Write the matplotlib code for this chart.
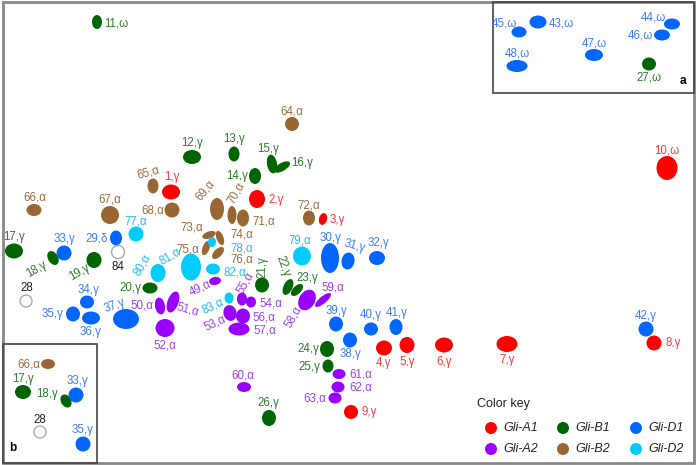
import matplotlib
matplotlib.use("Agg")
import matplotlib.pyplot as plt
from matplotlib.patches import Ellipse, Rectangle

plt.rcParams['font.family'] = ['Liberation Sans', 'DejaVu Sans']

# spot colours / label colours per gene
gene_colors = {'A1': '#ff0000', 'A2': '#9900ff', 'B1': '#006400',
               'B2': '#996633', 'D1': '#0066ff', 'D2': '#00ccff'}
text_colors = {'A1': '#ff3838', 'A2': '#a040ee', 'B1': '#2f7a2f',
               'B2': '#9a6b3e', 'D1': '#3f7cf2', 'D2': '#22bff0', 'X': '#222222'}
legend_genes = ['A1', 'B1', 'D1', 'A2', 'B2', 'D2']

# spots: (name, x, y, width, height, angle) in gel pixel coordinates
spots_A1 = [(1, 171, 192, 18, 15, 0), (2, 257, 199, 16, 18, 0), (3, 323, 219, 8, 12, 15),
            (4, 384, 348, 16, 15, 0), (5, 407, 345, 15, 16, 0), (6, 444, 345, 18, 15, 0),
            (7, 507, 344, 21, 16, 0), (8, 654, 343, 15, 15, 0), (9, 351, 412, 14, 14, 0),
            (10, 667, 168, 21, 24, 0)]
spots_A2 = [(49, 215, 281, 12, 8, -10), (50, 160, 306, 10, 17, -10), (51, 173, 302, 11, 22, 20),
            (52, 165, 328, 19, 18, 0), (53, 230, 313, 13, 16, -15), (54, 251, 302, 10, 11, 0),
            (55, 242, 299, 10, 13, 0), (56, 243, 316, 14, 15, 0), (57, 239, 329, 21, 13, 0),
            (58, 307, 300, 16, 22, 30), (59, 323, 300, 7, 20, 50), (60, 244, 387, 14, 10, 0),
            (61, 339, 374, 13, 10, 0), (62, 338, 387, 13, 11, 0), (63, 335, 398, 13, 11, 0)]
spots_B1 = [(11, 97, 22, 10, 14, 0), (12, 192, 157, 18, 14, 0), (13, 234, 154, 11, 15, 0),
            (14, 255, 176, 12, 16, 0), (15, 272, 164, 10, 19, -10), (16, 282, 167, 8, 18, 60),
            (17, 14, 251, 18, 15, 0), (18, 53, 258, 10, 15, -30), (19, 94, 260, 15, 16, 0),
            (20, 150, 288, 15, 11, 0), (21, 262, 285, 14, 15, 0), (22, 288, 287, 9, 17, 25),
            (23, 297, 290, 8, 15, 45), (24, 327, 349, 14, 16, 0), (25, 328, 366, 11, 13, 0),
            (26, 269, 418, 14, 16, 0), (27, 649, 64, 14, 13, 0),
            (17, 23, 392, 16, 14, 0), (18, 66, 401, 10, 14, -30)]
spots_B2 = [(64, 292, 124, 14, 14, 0), (65, 153, 186, 11, 15, 0), (66, 34, 210, 15, 12, 0),
            (67, 110, 215, 18, 18, 0), (68, 172, 210, 15, 15, 0), (69, 217, 209, 14, 22, 0),
            (70, 232, 215, 9, 18, 0), (71, 243, 218, 12, 17, 0), (72, 309, 218, 12, 15, 0),
            (73, 209, 235, 14, 7, -20), (74, 220, 238, 7, 15, -20), (75, 206, 248, 7, 15, 20),
            (76, 218, 253, 8, 15, 45), (66, 48, 364, 14, 10, 0)]
spots_D1 = [(29, 116, 238, 12, 15, 0), (30, 330, 258, 18, 30, 0), (31, 348, 261, 13, 17, 10),
            (32, 377, 258, 16, 14, 0), (33, 64, 253, 15, 15, 0), (34, 87, 302, 14, 13, 0),
            (35, 73, 314, 14, 15, 0), (36, 91, 318, 18, 13, 0), (37, 126, 319, 26, 20, 0),
            (38, 350, 340, 14, 15, 0), (39, 336, 324, 14, 15, 0), (40, 371, 329, 14, 13, 0),
            (41, 396, 327, 13, 16, 0), (42, 646, 329, 15, 15, 0), (43, 538, 22, 17, 13, 0),
            (44, 672, 24, 16, 11, 0), (45, 519, 32, 15, 11, 0), (46, 662, 35, 16, 11, 0),
            (47, 594, 55, 18, 12, 0), (48, 517, 66, 21, 12, 0),
            (33, 76, 395, 15, 15, 0), (35, 83, 444, 15, 15, 0)]
spots_D2 = [(77, 136, 234, 15, 15, 0), (78, 212, 242, 8, 10, 0), (79, 302, 256, 18, 19, 0),
            (80, 158, 273, 15, 18, 0), (81, 191, 267, 20, 27, 0), (82, 213, 269, 14, 11, 0),
            (83, 229, 298, 9, 11, 0)]
spots_none = [(84, 118, 252, 13, 13, 0), (28, 26, 301, 12, 12, 0), (28, 40, 432, 12, 12, 0)]

# labels: (text, gene, x, y, ha, rotation)
labels = [
    ('11,ω', 'B1', 104, 24, 'left', 0), ('45,ω', 'D1', 517, 24, 'right', 0),
    ('43,ω', 'D1', 549, 23, 'left', 0), ('48,ω', 'D1', 517, 54, 'center', 0),
    ('47,ω', 'D1', 594, 43, 'center', 0), ('44,ω', 'D1', 666, 18, 'right', 0),
    ('46,ω', 'D1', 653, 35, 'right', 0), ('27,ω', 'B1', 649, 78, 'center', 0),
    ('10,ω', 'A1', 667, 150, 'center', 0),
    ('12,γ', 'B1', 192, 143, 'center', 0), ('13,γ', 'B1', 234, 139, 'center', 0),
    ('65,α', 'B2', 148, 173, 'center', 15), ('1,γ', 'A1', 172, 177, 'center', 0),
    ('66,α', 'B2', 35, 197, 'center', 0), ('67,α', 'B2', 110, 199, 'center', 0),
    ('68,α', 'B2', 164, 210, 'right', 0), ('17,γ', 'B1', 14, 237, 'center', 0),
    ('33,γ', 'D1', 64, 239, 'center', 0), ('29,δ', 'D1', 108, 238, 'right', 0),
    ('84', 'X', 118, 267, 'center', 0), ('77,α', 'D2', 136, 221, 'center', 0),
    ('69,α', 'B2', 205, 190, 'center', 50), ('70,α', 'B2', 236, 193, 'center', 60),
    ('71,α', 'B2', 252, 221, 'left', 0), ('14,γ', 'B1', 248, 176, 'right', 0),
    ('15,γ', 'B1', 268, 149, 'center', 0), ('16,γ', 'B1', 291, 163, 'left', 0),
    ('64,α', 'B2', 292, 111, 'center', 0), ('2,γ', 'A1', 268, 200, 'left', 0),
    ('72,α', 'B2', 309, 205, 'center', 0), ('3,γ', 'A1', 330, 220, 'left', 0),
    ('73,α', 'B2', 192, 227, 'center', 0), ('74,α', 'B2', 230, 234, 'left', 0),
    ('78,α', 'D2', 230, 248, 'left', 0), ('76,α', 'B2', 230, 259, 'left', 0),
    ('75,α', 'B2', 188, 249, 'center', 0), ('81,α', 'D2', 170, 256, 'center', 30),
    ('80,α', 'D2', 142, 265, 'center', 60), ('82,α', 'D2', 223, 272, 'left', 0),
    ('49,α', 'A2', 200, 288, 'center', 25), ('20,γ', 'B1', 141, 288, 'right', 0),
    ('21,γ', 'B1', 262, 267, 'center', 90), ('22,γ', 'B1', 283, 266, 'center', -70),
    ('23,γ', 'B1', 307, 278, 'center', 0), ('58,α', 'A2', 293, 317, 'center', 60),
    ('59,α', 'A2', 333, 287, 'center', 0), ('79,α', 'D2', 300, 240, 'center', 0),
    ('30,γ', 'D1', 330, 238, 'center', 0), ('31,γ', 'D1', 355, 246, 'center', -15),
    ('32,γ', 'D1', 378, 243, 'center', 0), ('39,γ', 'D1', 336, 311, 'center', 0),
    ('40,γ', 'D1', 371, 315, 'center', 0), ('41,γ', 'D1', 397, 313, 'center', 0),
    ('38,γ', 'D1', 350, 354, 'center', 0), ('4,γ', 'A1', 384, 363, 'center', 0),
    ('5,γ', 'A1', 407, 362, 'center', 0), ('6,γ', 'A1', 444, 362, 'center', 0),
    ('7,γ', 'A1', 507, 360, 'center', 0), ('42,γ', 'D1', 646, 316, 'center', 0),
    ('8,γ', 'A1', 665, 343, 'left', 0), ('24,γ', 'B1', 319, 349, 'right', 0),
    ('25,γ', 'B1', 320, 367, 'right', 0), ('61,α', 'A2', 349, 374, 'left', 0),
    ('62,α', 'A2', 349, 387, 'left', 0), ('63,α', 'A2', 326, 398, 'right', 0),
    ('9,γ', 'A1', 361, 412, 'left', 0), ('60,α', 'A2', 243, 375, 'center', 0),
    ('26,γ', 'B1', 268, 403, 'center', 0), ('52,α', 'A2', 165, 345, 'center', 0),
    ('50,α', 'A2', 142, 305, 'center', 0), ('51,α', 'A2', 188, 310, 'center', -15),
    ('55,α', 'A2', 245, 283, 'center', 60), ('54,α', 'A2', 259, 303, 'left', 0),
    ('56,α', 'A2', 252, 317, 'left', 0), ('57,α', 'A2', 253, 330, 'left', 0),
    ('53,α', 'A2', 215, 323, 'center', 25), ('83,α', 'D2', 213, 306, 'center', 25),
    ('18,γ', 'B1', 37, 269, 'center', 30), ('19,γ', 'B1', 80, 272, 'center', 30),
    ('28', 'X', 27, 288, 'center', 0), ('34,γ', 'D1', 88, 290, 'center', 0),
    ('35,γ', 'D1', 63, 314, 'right', 0), ('36,γ', 'D1', 90, 332, 'center', 0),
    ('37,γ', 'D1', 115, 306, 'center', 20),
    # inset b
    ('66,α', 'B2', 40, 364, 'right', 0), ('17,γ', 'B1', 23, 379, 'center', 0),
    ('18,γ', 'B1', 58, 394, 'right', 0), ('33,γ', 'D1', 77, 381, 'center', 0),
    ('28', 'X', 40, 420, 'center', 0), ('35,γ', 'D1', 83, 430, 'center', 0),
]

fig = plt.figure(figsize=(6.97, 4.65), dpi=100)
ax = fig.add_axes([0, 0, 1, 1])
ax.set_xlim(0, 697)
ax.set_ylim(465, 0)
ax.axis('off')

# frames
ax.add_patch(Rectangle((3, 2), 691, 461, fill=False, ec='#888888', lw=2))
ax.add_patch(Rectangle((493, 2), 201, 91, fill=False, ec='#444444', lw=1.2))
ax.add_patch(Rectangle((3, 344), 94, 119, fill=False, ec='#444444', lw=1.2))

for gene, spots in [('A1', spots_A1), ('A2', spots_A2), ('B1', spots_B1),
                    ('B2', spots_B2), ('D1', spots_D1), ('D2', spots_D2)]:
    for name, x, y, w, h, ang in spots:
        ax.add_patch(Ellipse((x, y), w, h, angle=ang, fc=gene_colors[gene], ec='none'))

for name, x, y, w, h, ang in spots_none:
    ax.add_patch(Ellipse((x, y), w, h, angle=ang, fc='white', ec='#aaaaaa', lw=1))

for txt, gene, x, y, ha, rot in labels:
    ax.text(x, y, txt, color=text_colors[gene], fontsize=8.3, ha=ha, va='center',
            rotation=rot, rotation_mode='anchor' if rot == 0 else 'default')

ax.text(683, 81, 'a', fontsize=8.5, fontweight='bold', ha='center', va='center')
ax.text(13, 448, 'b', fontsize=8.5, fontweight='bold', ha='center', va='center')

# colour key
ax.text(477, 404, 'Color key', fontsize=9, ha='left', va='center', color='#222222')
key_x = [491, 563, 636]
key_y = [428, 449]
for i, gene in enumerate(legend_genes):
    kx = key_x[i % 3]
    ky = key_y[i // 3]
    ax.add_patch(Ellipse((kx, ky), 12, 12, fc=gene_colors[gene], ec='none'))
    ax.text(kx + 12, ky, 'Gli-' + gene, fontsize=9, style='italic', ha='left',
            va='center', color='#222222')

fig.savefig('out.png', dpi=100)
